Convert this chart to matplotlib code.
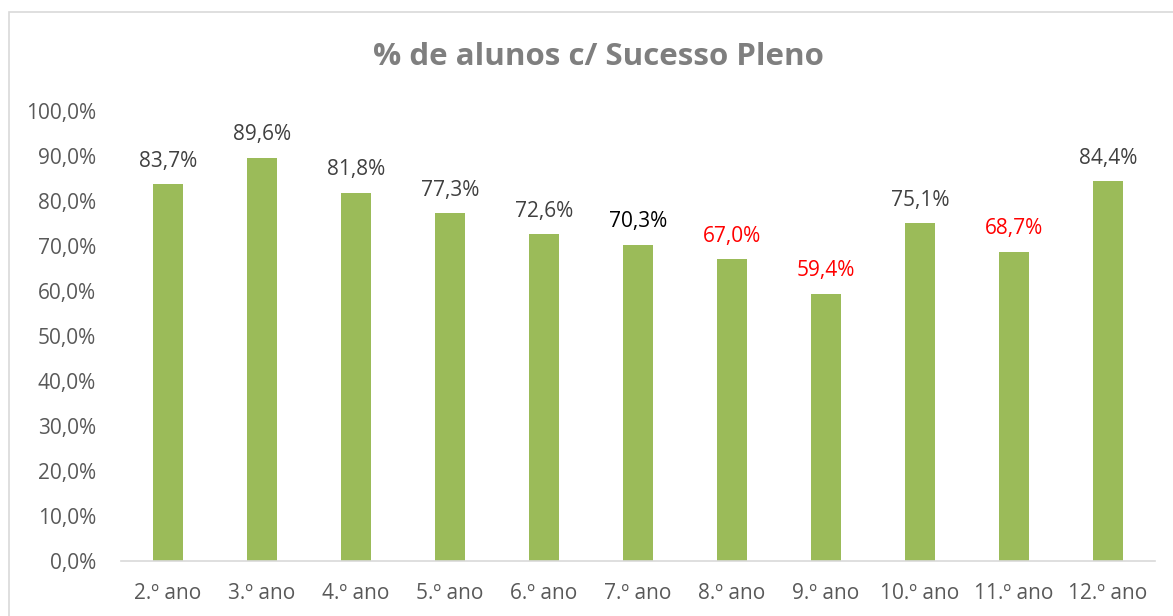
import matplotlib
matplotlib.use("Agg")
import matplotlib.pyplot as plt
from matplotlib.patches import Rectangle

categories = ["2.º ano", "3.º ano", "4.º ano", "5.º ano", "6.º ano", "7.º ano",
              "8.º ano", "9.º ano", "10.º ano", "11.º ano", "12.º ano"]
values = [83.7, 89.6, 81.8, 77.3, 72.6, 70.3, 67.0, 59.4, 75.1, 68.7, 84.4]
label_colors = ["#404040", "#404040", "#404040", "#404040", "#404040", "#000000",
                "#FF0000", "#FF0000", "#404040", "#FF0000", "#404040"]
yticks = [0, 10, 20, 30, 40, 50, 60, 70, 80, 90, 100]

plt.rcParams['font.family'] = ['Open Sans', 'DejaVu Sans']

W, H = 1173, 616
fig = plt.figure(figsize=(W / 100, H / 100), dpi=100)
fig.patch.set_facecolor("white")

# chart border
fig.patches.append(Rectangle((9 / W, -0.01), 1.02 - 9 / W, (H - 12) / H + 0.01,
                             transform=fig.transFigure, fill=False,
                             edgecolor="#D9D9D9", linewidth=1.2))

ax = fig.add_axes([121 / W, (H - 561) / H, (1155 - 121) / W, (561 - 111) / H])
x = list(range(len(categories)))
ax.bar(x, values, width=0.31, color="#9BBB59", zorder=2)
ax.set_xlim(-0.5, len(categories) - 0.5)
ax.set_ylim(0, 100)
ax.set_yticks(yticks)
ax.set_yticklabels([f"{v:.1f}".replace(".", ",") + "%" for v in yticks])
ax.set_xticks(x)
ax.set_xticklabels(categories)
ax.tick_params(axis="both", length=0, labelsize=15, colors="#595959")
ax.tick_params(axis="y", pad=18)
ax.tick_params(axis="x", pad=16)
for s in ["top", "right", "left"]:
    ax.spines[s].set_visible(False)
ax.spines["bottom"].set_color("#D9D9D9")
ax.spines["bottom"].set_linewidth(1.2)

for xi, v, c in zip(x, values, label_colors):
    ax.annotate(f"{v:.1f}".replace(".", ",") + "%", (xi, v), xytext=(0, 9),
                textcoords="offset points", ha="center", va="bottom",
                fontsize=15, color=c)

fig.text(598 / W, (H - 57) / H, "% de alunos c/ Sucesso Pleno", ha="center",
         va="center", fontsize=22.5, fontweight="bold", color="#7F7F7F")

fig.savefig("out.png", dpi=100)
